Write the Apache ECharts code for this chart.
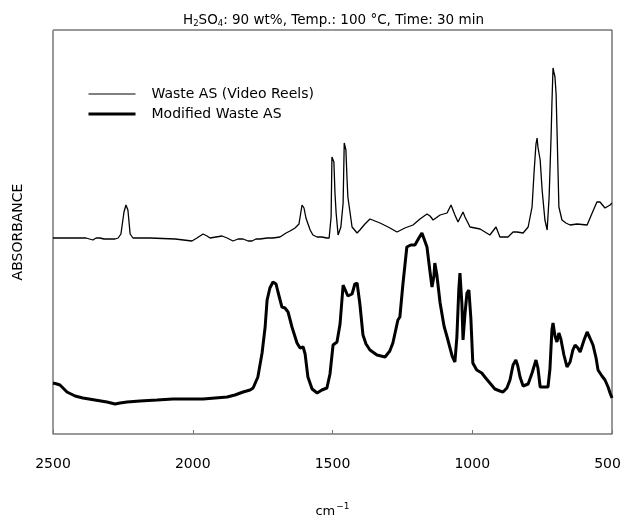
<!DOCTYPE html>
<html>
<head>
<meta charset="utf-8">
<script src="https://cdn.jsdelivr.net/npm/echarts@6/dist/echarts.min.js"></script>
<style>
  html, body { margin: 0; padding: 0; background: #fff; }
  #chart { width: 622px; height: 519px; }
</style>
</head>
<body>
<div id="chart"></div>
<script>
// wavenumber axis ticks (cm-1)
var xTicks = [2500, 2000, 1500, 1000, 500];

// Waste AS (Video Reels) - thin trace, arbitrary absorbance units
var wasteWave = [2500, 2382, 2375, 2357, 2346, 2332, 2318, 2278, 2267, 2257, 2246, 2239, 2232, 2224, 2214, 2153,
  2063, 2060, 2003, 1985, 1963, 1949, 1938, 1917, 1895, 1877, 1856, 1838, 1820, 1802, 1788, 1774, 1759, 1734,
  1713, 1688, 1666, 1652, 1634, 1620, 1609, 1602, 1595, 1580, 1570, 1555, 1538, 1520, 1512, 1505, 1502, 1498,
  1495, 1491, 1487, 1480, 1470, 1462, 1458, 1455, 1452, 1448, 1445, 1430, 1412, 1402, 1384, 1366, 1348, 1330,
  1301, 1269, 1241, 1212, 1187, 1162, 1151, 1140, 1115, 1090, 1076, 1062, 1051, 1033, 1026, 1008, 972, 937,
  915, 901, 872, 854, 840, 818, 800, 786, 779, 772, 768, 765, 757, 750, 740, 732, 725, 718, 715, 711, 708, 704,
  700, 697, 690, 679, 665, 650, 625, 589, 571, 554, 543, 525, 507, 500];
var wasteAbs = [196, 196, 195, 194, 196, 196, 195, 195, 196, 200, 222, 229, 224, 200, 196, 196,
  195, 193, 193, 196, 200, 198, 196, 197, 198, 196, 193, 195, 195, 193, 193, 195, 195, 196,
  196, 197, 201, 203, 206, 210, 229, 226, 216, 204, 199, 197, 197, 196, 196, 217, 277, 275,
  272, 240, 221, 199, 207, 231, 291, 290, 284, 255, 237, 207, 201, 204, 210, 215, 213, 211,
  207, 202, 206, 209, 215, 220, 218, 214, 219, 221, 229, 219, 212, 222, 217, 207, 205, 199,
  207, 197, 197, 202, 202, 201, 207, 227, 261, 290, 296, 287, 274, 244, 214, 204, 237, 297, 330, 366, 362, 357,
  340, 307, 227, 214, 211, 209, 210, 209, 221, 232, 232, 226, 229, 231];

// Modified Waste AS - thick trace
var modWave = [2500, 2486, 2475, 2450, 2421, 2393, 2350, 2307, 2278, 2260, 2235, 2189, 2128, 2071, 2010, 1963,
  1920, 1877, 1849, 1820, 1795, 1784, 1767, 1752, 1741, 1734, 1724, 1713, 1702, 1695, 1681, 1670, 1659, 1645,
  1627, 1616, 1605, 1598, 1588, 1573, 1555, 1538, 1520, 1509, 1498, 1484, 1473, 1462, 1455, 1445, 1438, 1430,
  1420, 1412, 1402, 1391, 1380, 1366, 1341, 1312, 1295, 1284, 1266, 1259, 1248, 1234, 1220, 1205, 1191, 1180,
  1173, 1162, 1151, 1144, 1137, 1134, 1127, 1115, 1101, 1090, 1072, 1062, 1055, 1048, 1044, 1037, 1033, 1026,
  1019, 1012, 1005, 998, 984, 966, 952, 937, 919, 901, 890, 876, 865, 854, 844, 837, 829, 818, 811, 800, 786,
  772, 765, 757, 740, 729, 722, 715, 711, 704, 697, 690, 683, 672, 661, 650, 640, 632, 622, 614, 600, 589, 579,
  568, 557, 550, 536, 525, 514, 507, 500];
var modAbs = [51, 50, 49, 42, 38, 36, 34, 32, 30, 31, 32, 33, 34, 35, 35, 35,
  36, 37, 39, 42, 44, 46, 57, 81, 107, 134, 146, 152, 150, 142, 127, 126, 122, 107,
  91, 86, 87, 80, 57, 45, 41, 44, 46, 60, 89, 92, 110, 149, 151, 138, 136, 140,
  150, 151, 130, 99, 90, 84, 79, 77, 83, 91, 114, 117, 150, 187, 189, 189, 196, 201,
  200, 187, 162, 147, 158, 171, 160, 131, 108, 97, 78, 72, 97, 145, 161, 130, 94, 120,
  141, 144, 116, 71, 64, 61, 56, 51, 45, 43, 42, 46, 54, 69, 74, 68, 57, 48, 46, 50, 61,
  74, 66, 47, 47, 47, 65, 104, 111, 98, 92, 101, 95, 79, 67, 72, 84, 89, 86, 82, 94, 102, 96,
  89, 76, 64, 58, 54, 47, 41, 36];

function zip(xs, ys) {
  return xs.map(function (x, i) { return [x, ys[i]]; });
}

var chart = echarts.init(document.getElementById('chart'));
var font = 'DejaVu Sans, Verdana, sans-serif';

chart.setOption({
  animation: false,
  backgroundColor: '#fff',
  textStyle: { fontFamily: font, color: '#000' },
  title: {
    text: '{n|H}{s|2}{n|SO}{s|4}{n|: 90 wt%, Temp.: 100 °C, Time: 30 min}',
    left: 178,
    top: 7,
    textStyle: {
      fontWeight: 'normal',
      rich: {
        n: { fontSize: 13.5, fontFamily: font, fontWeight: 'normal', color: '#000', lineHeight: 17 },
        s: { fontSize: 8.5, fontFamily: font, fontWeight: 'normal', color: '#000', lineHeight: 17, padding: [7, 0, 0, 0] }
      }
    }
  },
  legend: {
    orient: 'vertical',
    left: 82,
    top: 82,
    itemWidth: 47,
    itemHeight: 14,
    itemGap: 6,
    itemStyle: { opacity: 0 },
    textStyle: { fontSize: 14, fontFamily: font, color: '#000', padding: [0, 0, 0, 11] },
    data: [
      { name: 'Waste AS (Video Reels)', lineStyle: { width: 1.2, color: '#000' } },
      { name: 'Modified Waste AS', lineStyle: { width: 3, color: '#000' } }
    ]
  },
  grid: {
    left: 53, right: 10, top: 30, bottom: 85,
    outerBoundsMode: 'none',
    containLabel: false,
    show: true, borderColor: '#333', borderWidth: 1, backgroundColor: 'transparent'
  },
  xAxis: {
    type: 'value',
    min: 500,
    max: 2500,
    interval: 500,
    inverse: true,
    name: '{n|cm}{p|−1}',
    nameLocation: 'middle',
    nameGap: 69,
    nameTextStyle: {
      rich: {
        n: { fontSize: 13, fontFamily: font, color: '#000', lineHeight: 18 },
        p: { fontSize: 9, fontFamily: font, color: '#000', lineHeight: 18, padding: [0, 0, 10, 1] }
      }
    },
    axisLine: { lineStyle: { color: '#999', width: 1 } },
    axisTick: { inside: true, length: 4, lineStyle: { color: '#777' } },
    axisLabel: {
      fontSize: 14, color: '#000', margin: 23,
      formatter: function (v) {
        if (xTicks.indexOf(v) < 0) return '';
        return v === 500 ? '{r|' + v + '}' : String(v);
      },
      rich: { r: { fontSize: 14, fontFamily: font, color: '#000', padding: [0, 9, 0, 0] } }
    },
    splitLine: { show: false }
  },
  yAxis: {
    type: 'value',
    min: 0,
    max: 404,
    name: 'ABSORBANCE',
    nameLocation: 'middle',
    nameGap: 28,
    nameRotate: 90,
    nameTextStyle: { fontSize: 14, fontFamily: font, color: '#000' },
    axisLine: { show: true, lineStyle: { color: '#999', width: 1 } },
    axisTick: { show: false },
    axisLabel: { show: false },
    splitLine: { show: false }
  },
  series: [
    {
      name: 'Waste AS (Video Reels)',
      type: 'line',
      symbol: 'none',
      data: zip(wasteWave, wasteAbs),
      lineStyle: { color: '#000', width: 1.3 },
      itemStyle: { color: '#000' }
    },
    {
      name: 'Modified Waste AS',
      type: 'line',
      symbol: 'none',
      data: zip(modWave, modAbs),
      lineStyle: { color: '#000', width: 3 },
      itemStyle: { color: '#000' }
    }
  ]
});
</script>
</body>
</html>
